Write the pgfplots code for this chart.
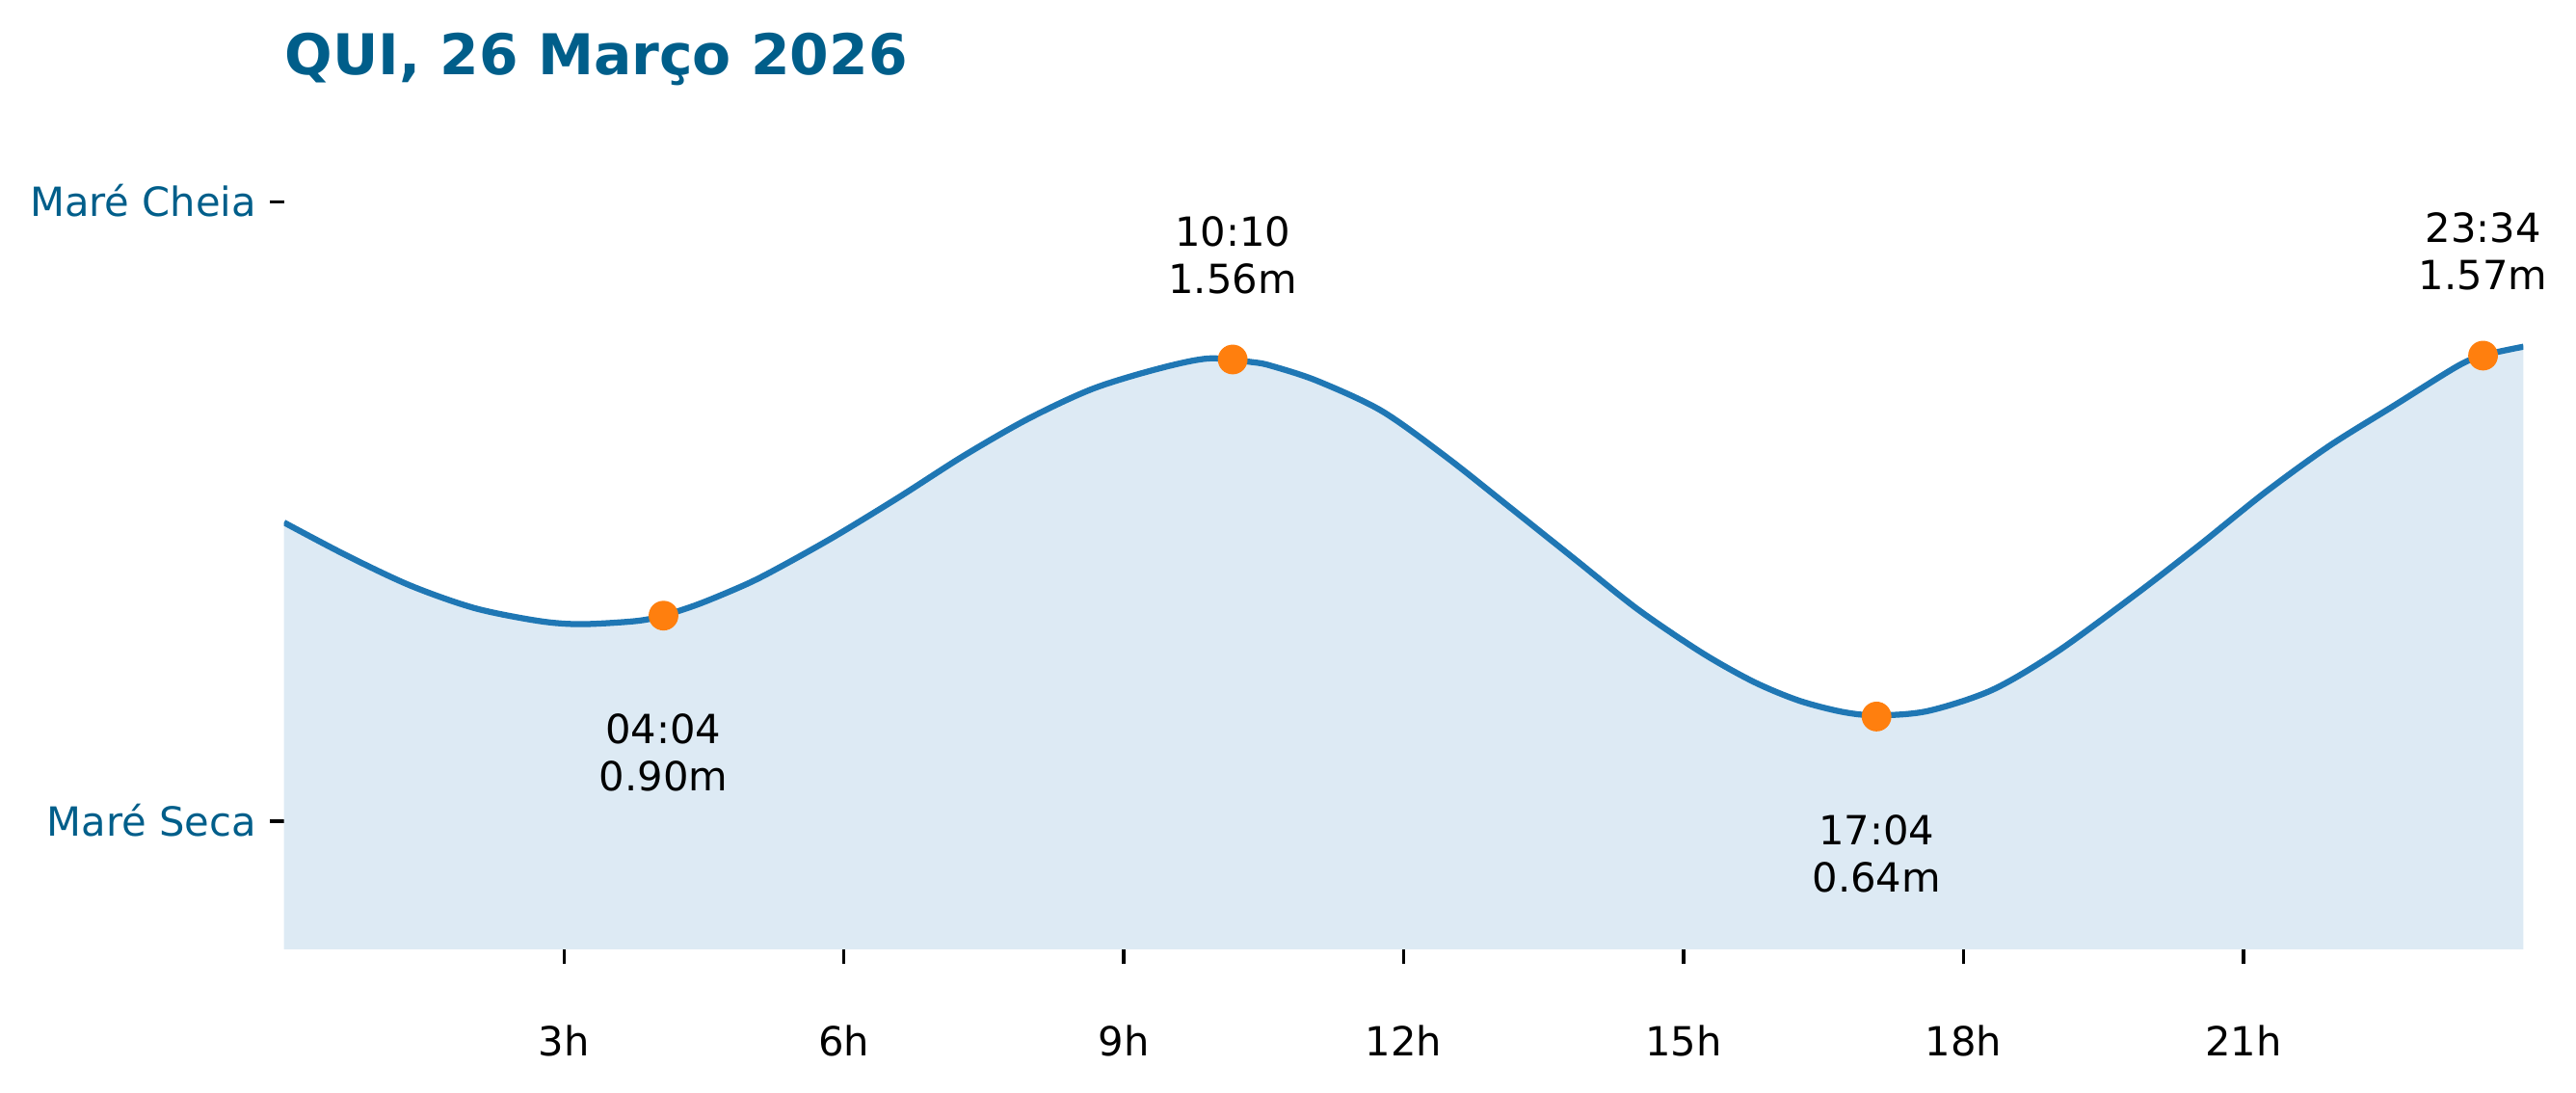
\documentclass[border=0pt]{standalone}
\usepackage{fontspec}
\setmainfont{DejaVu Sans}
\usepackage{pgfplots}
\pgfplotsset{compat=1.18}
\definecolor{titleblue}{RGB}{0,94,138}
\definecolor{lineblue}{HTML}{1F77B4}
\definecolor{fillblue}{RGB}{221,234,244}
\definecolor{mkorange}{HTML}{FF7F0E}
\pgfplotstableread{
x y
0.000 1.140
0.671 1.055
1.359 0.977
2.048 0.919
2.737 0.886
3.184 0.878
3.770 0.886
4.065 0.900
4.458 0.931
4.974 0.983
5.353 1.030
5.908 1.105
6.596 1.206
7.285 1.312
7.974 1.407
8.661 1.484
9.350 1.535
9.901 1.5625
10.383 1.553
10.590 1.543
11.072 1.505
11.760 1.428
12.449 1.310
13.138 1.179
13.826 1.047
14.515 0.915
15.204 0.803
15.754 0.729
16.236 0.681
16.700 0.652
17.070 0.643
17.613 0.654
18.302 0.708
18.990 0.805
19.851 0.956
20.539 1.084
21.228 1.217
21.917 1.337
22.605 1.440
23.294 1.543
23.576 1.571
24.000 1.593
}\tide
\begin{document}
\begin{tikzpicture}
\begin{axis}[
 at={(0,0)}, anchor=south west,
 width=557.7pt, height=186.5pt, scale only axis,
 xmin=0, xmax=24, ymin=0.04, ymax=1.97,
 axis lines*=left,
 axis line style={draw=none},
 tick align=outside,
 major tick length=3.5pt,
 tick style={black, line width=0.8pt},
 xtick={3,6,9,12,15,18,21},
 xticklabels={3h,6h,9h,12h,15h,18h,21h},
 ytick={0.37,1.966},
 yticklabels={Maré Seca, Maré Cheia},
 xticklabel style={font=\fontsize{10}{12}\selectfont, anchor=base, inner sep=0pt, yshift=-23pt},
 yticklabel style={font=\fontsize{10}{12}\selectfont, text=titleblue, anchor=base east, inner sep=0pt, xshift=-3.2pt, yshift=-3.65pt},
]
\addplot[fill=fillblue, draw=none, smooth] table[x=x,y=y]{\tide} \closedcycle;
\addplot[lineblue, line width=1.5pt, smooth] table[x=x,y=y]{\tide};
\addplot[only marks, mark=*, mark size=3.5pt, color=mkorange] coordinates {(4.067,0.90) (10.167,1.56) (17.067,0.64) (23.567,1.57)};
\coordinate (a1) at (axis cs:4.067,0.90);
\coordinate (a2) at (axis cs:10.167,1.56);
\coordinate (a3) at (axis cs:17.067,0.64);
\coordinate (a4) at (axis cs:23.567,1.57);
\end{axis}
\begin{scope}[every node/.style={inner sep=0pt, anchor=base, font=\fontsize{10}{12}\selectfont}]
\node at ([yshift=28.3pt]a2) {10:10};
\node at ([yshift=16.4pt]a2) {1.56m};
\node at ([yshift=28.3pt]a4) {23:34};
\node at ([yshift=16.4pt]a4) {1.57m};
\node at ([yshift=-31.9pt]a1) {04:04};
\node at ([yshift=-43.7pt]a1) {0.90m};
\node at ([yshift=-31.9pt]a3) {17:04};
\node at ([yshift=-43.7pt]a3) {0.64m};
\end{scope}
\node[anchor=base west, inner sep=0pt, text=titleblue, font=\fontsize{14}{17}\selectfont\bfseries] at (0pt,217.9pt) {QUI, 26 Março 2026};
\pgfresetboundingbox
\path[use as bounding box] (-70.73pt,-35.76pt) rectangle (570.79pt,236.4pt);
\end{tikzpicture}
\end{document}
